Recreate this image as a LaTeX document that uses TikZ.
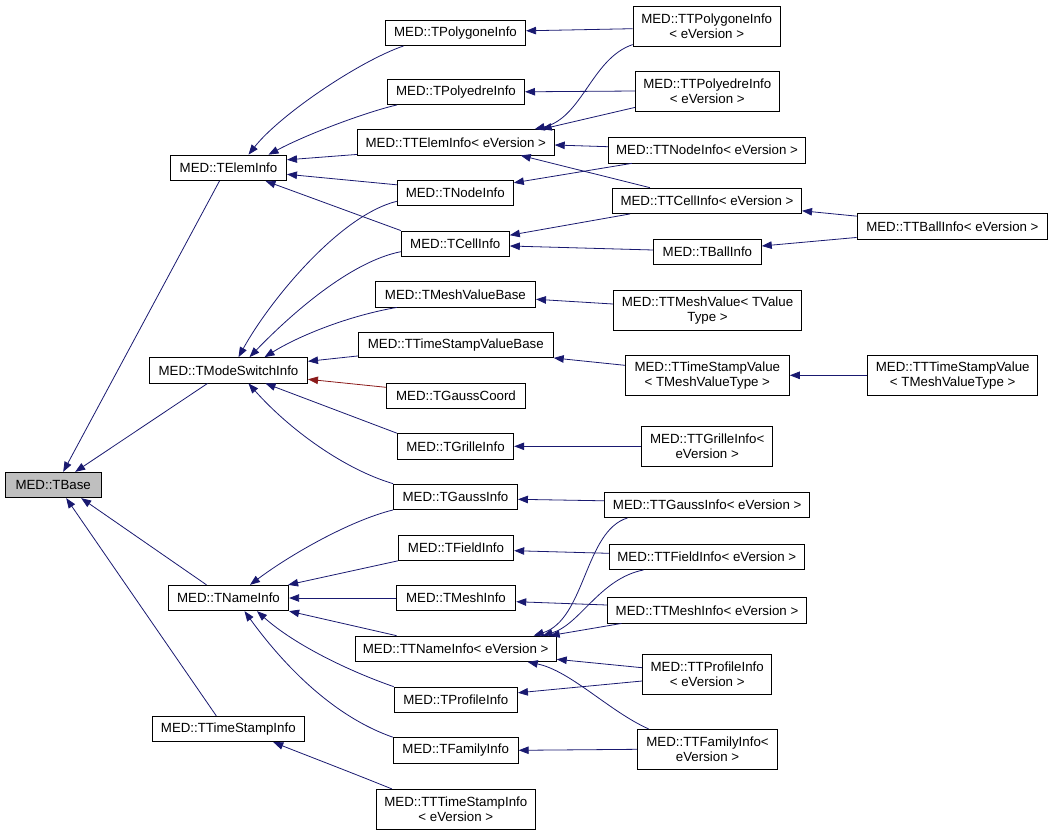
\documentclass[tikz,border=0pt]{standalone}
\usepackage{fontspec}
\setmainfont{Liberation Sans}
\usetikzlibrary{arrows.meta}
\definecolor{edgeblue}{HTML}{191970}
\definecolor{edgered}{HTML}{8B1A1A}
\begin{document}
\begin{tikzpicture}[x=1pt,y=-1pt,
    cls/.style={draw=black,line width=0.8pt,fill=white,inner sep=0pt,align=center,
      font=\fontsize{13.3}{15}\selectfont,minimum height=25.5pt},
    two/.style={minimum height=40pt},
    inh/.style={draw=edgeblue,line width=0.8pt,-{Triangle[length=10pt,width=7.5pt]}},
    tmpl/.style={draw=edgered,line width=0.8pt,-{Triangle[length=10pt,width=7.5pt]}}]
    \useasboundingbox (0,0) rectangle (1052,835);
    % first column
    \node[cls,fill=black!25,minimum width=96.3pt] (base) at (53.2,485) {MED::TBase};
    \node[cls,minimum width=116.2pt] (elem) at (228.5,167.8) {MED::TElemInfo};
    \node[cls,minimum width=158.2pt] (mode) at (228.5,370.3) {MED::TModeSwitchInfo};
    \node[cls,minimum width=120.4pt] (name) at (228.5,598) {MED::TNameInfo};
    \node[cls,minimum width=151.8pt] (tsinfo) at (228.3,729) {MED::TTimeStampInfo};
    % second column
    \node[cls,minimum width=140.3pt] (polygone) at (455.5,32.8) {MED::TPolygoneInfo};
    \node[cls,minimum width=137.2pt] (polyedre) at (456,91.8) {MED::TPolyedreInfo};
    \node[cls,minimum width=197pt] (ttelem) at (455.8,142.3) {MED::TTElemInfo< eVersion >};
    \node[cls,minimum width=116.2pt] (nodeinfo) at (455.3,192.8) {MED::TNodeInfo};
    \node[cls,minimum width=108.2pt] (cellinfo) at (455.3,243.7) {MED::TCellInfo};
    \node[cls,minimum width=160.4pt] (meshvb) at (455.4,294.3) {MED::TMeshValueBase};
    \node[cls,minimum width=195pt] (tsvb) at (455.8,344.8) {MED::TTimeStampValueBase};
    \node[cls,minimum width=139.3pt] (gcoord) at (456,395.8) {MED::TGaussCoord};
    \node[cls,minimum width=116.6pt] (grille) at (455.5,446.3) {MED::TGrilleInfo};
    \node[cls,minimum width=124.1pt] (gauss) at (455.5,496.8) {MED::TGaussInfo};
    \node[cls,minimum width=115.6pt] (field) at (456,547.7) {MED::TFieldInfo};
    \node[cls,minimum width=119.7pt] (mesh) at (456,598) {MED::TMeshInfo};
    \node[cls,minimum width=201.4pt] (ttname) at (455.6,648.8) {MED::TTNameInfo< eVersion >};
    \node[cls,minimum width=123.4pt] (profile) at (455.8,699.8) {MED::TProfileInfo};
    \node[cls,minimum width=125.1pt] (family) at (455.7,750.3) {MED::TFamilyInfo};
    \node[cls,two,minimum width=159.1pt] (tttsinfo) at (455.8,809.3) {MED::TTTimeStampInfo\\< eVersion >};
    % third column
    \node[cls,two,minimum width=147.3pt] (ttpolygone) at (706.7,26.2) {MED::TTPolygoneInfo\\< eVersion >};
    \node[cls,two,minimum width=143.8pt] (ttpolyedre) at (707.3,91) {MED::TTPolyedreInfo\\< eVersion >};
    \node[cls,minimum width=197.5pt] (ttnode) at (707,150.2) {MED::TTNodeInfo< eVersion >};
    \node[cls,minimum width=189.3pt] (ttcell) at (707,200.8) {MED::TTCellInfo< eVersion >};
    \node[cls,minimum width=107.9pt] (ballinfo) at (707.4,251.8) {MED::TBallInfo};
    \node[cls,two,minimum width=188.3pt] (ttmeshvalue) at (707.5,310.3) {MED::TTMeshValue< TValue\\Type >};
    \node[cls,two,minimum width=164.2pt] (tttsvalue) at (707.3,375.3) {MED::TTimeStampValue\\< TMeshValueType >};
    \node[cls,two,minimum width=131.3pt] (ttgrille) at (707.2,446.3) {MED::TTGrilleInfo<\\eVersion >};
    \node[cls,minimum width=205.3pt] (ttgauss) at (707.2,504.8) {MED::TTGaussInfo< eVersion >};
    \node[cls,minimum width=195.2pt] (ttfield) at (706.8,556.8) {MED::TTFieldInfo< eVersion >};
    \node[cls,minimum width=199.5pt] (ttmesh) at (707,610.3) {MED::TTMeshInfo< eVersion >};
    \node[cls,two,minimum width=129.3pt] (ttprofile) at (707.2,674.3) {MED::TTProfileInfo\\< eVersion >};
    \node[cls,two,minimum width=140.2pt] (ttfamily) at (707.5,749.3) {MED::TTFamilyInfo<\\eVersion >};
    % fourth column
    \node[cls,minimum width=190.7pt] (ttball) at (952.4,226.3) {MED::TTBallInfo< eVersion >};
    \node[cls,two,minimum width=170.3pt] (ttttsvalue) at (952.7,375.3) {MED::TTTimeStampValue\\< TMeshValueType >};
    % edges to MED::TBase
    \draw[inh] ([xshift=-9pt]elem.south) -- ([xshift=10pt]base.north);
    \draw[inh] ([xshift=-21pt]mode.south) -- ([xshift=22pt]base.north);
    \draw[inh] ([xshift=-22pt]name.north) -- ([xshift=28pt]base.south);
    \draw[inh] ([xshift=-12pt]tsinfo.north) -- ([xshift=13pt]base.south);
    % edges to MED::TElemInfo
    \draw[inh] ([xshift=18.6pt]polygone.south west) .. controls +(-44,15) and +(31.5,-40) .. ([xshift=20pt]elem.north);
    \draw[inh] ([xshift=10pt]polyedre.south west) .. controls +(-27,6) and +(41.5,-22) .. ([xshift=40pt]elem.north);
    \draw[inh] ([yshift=1pt]ttelem.south west) -- ([yshift=8pt]elem.east);
    \draw[inh] ([yshift=8pt]nodeinfo.west) -- ([yshift=-6.5pt]elem.east);
    \draw[inh] (cellinfo.north west) -- ([xshift=37pt]elem.south);
    % edges to MED::TModeSwitchInfo
    \draw[inh] ([yshift=-8.5pt]nodeinfo.west) .. controls +(-57,14) and +(31.5,-57) .. ([xshift=10pt]mode.north);
    \draw[inh] ([yshift=-8pt]cellinfo.west) .. controls +(-51,10) and +(40.5,-42) .. ([xshift=21pt]mode.north);
    \draw[inh] ([xshift=22pt]meshvb.south west) .. controls +(-47,8) and +(35.5,-22) .. ([xshift=36pt]mode.north);
    \draw[inh] ([yshift=2pt]tsvb.south west) -- ([yshift=9pt]mode.east);
    \draw[tmpl] ([yshift=8.5pt]gcoord.west) -- ([yshift=-9pt]mode.east);
    \draw[inh] (grille.north west) -- ([xshift=37pt]mode.south);
    \draw[inh] (gauss.north west) .. controls +(-48.4,-14.3) and +(41.5,46.7) .. ([xshift=20pt]mode.south);
    % edges to MED::TNameInfo
    \draw[inh] (gauss.south west) .. controls +(-43.4,10.7) and +(40,-30) .. ([xshift=21.5pt]name.north);
    \draw[inh] (field.south west) -- ([xshift=-1pt]name.north east);
    \draw[inh] (mesh.west) -- (name.east);
    \draw[inh] ([xshift=42pt]ttname.north west) -- (name.south east);
    \draw[inh] (profile.north west) .. controls +(-44,-15.3) and +(38,34) .. ([xshift=28.5pt]name.south);
    \draw[inh] (family.north west) .. controls +(-63,-22) and +(35.5,49) .. ([xshift=16pt]name.south);
    \draw[inh] ([xshift=16pt]tttsinfo.north west) .. controls +(-42,-17) and +(26.7,10.7) .. ([xshift=45pt]tsinfo.south);
    % edges from the third column
    \draw[inh] ([yshift=-2.5pt]ttpolygone.west) -- ([yshift=2pt]polygone.east);
    \draw[inh] ([yshift=2pt]ttpolygone.south west) .. controls +(-41,13.8) and +(47.7,-11.3) .. ([xshift=-20pt]ttelem.north east);
    \draw[inh] (ttpolyedre.west) -- (polyedre.east);
    \draw[inh] ([yshift=4pt]ttpolyedre.south west) -- ([xshift=-13pt]ttelem.north east);
    \draw[inh] ([yshift=3.5pt]ttnode.west) -- ([yshift=-2.7pt]ttelem.east);
    \draw[inh] ([xshift=24pt]ttnode.south west) -- ([yshift=10pt]nodeinfo.east);
    \draw[inh] ([xshift=38pt]ttcell.north west) -- ([xshift=-34pt]ttelem.south east);
    \draw[inh] ([xshift=18pt]ttcell.south west) -- ([yshift=8.5pt]cellinfo.east);
    \draw[inh] ([yshift=1.8pt]ballinfo.west) -- ([yshift=-2.3pt]cellinfo.east);
    \draw[inh] ([yshift=-3pt]ttball.north west) -- ([yshift=-10pt]ttcell.east);
    \draw[inh] ([yshift=2pt]ttball.south west) -- ([yshift=5.8pt]ballinfo.east);
    \draw[inh] ([yshift=6.3pt]ttmeshvalue.west) -- ([yshift=-5pt]meshvb.east);
    \draw[inh] ([yshift=10pt]tttsvalue.west) -- (tsvb.south east);
    \draw[inh] (ttttsvalue.west) -- (tttsvalue.east);
    \draw[inh] (ttgrille.west) -- (grille.east);
    \draw[inh] ([yshift=4pt]ttgauss.west) -- ([yshift=-2.5pt]gauss.east);
    \draw[inh] ([xshift=23.4pt]ttgauss.south west) .. controls +(-42.9,12.7) and +(51.7,-16.3) .. ([xshift=-23pt]ttname.north east);
    \draw[inh] ([yshift=3.5pt]ttfield.west) -- ([yshift=-3pt]field.east);
    \draw[inh] ([xshift=34.7pt]ttfield.south west) .. controls +(-43.9,8.7) and +(37.7,-11.3) .. ([xshift=-14pt]ttname.north east);
    \draw[inh] ([yshift=5.3pt]ttmesh.west) -- ([yshift=-3.7pt]mesh.east);
    \draw[inh] ([xshift=14.6pt]ttmesh.south west) -- ([xshift=-7pt]ttname.north east);
    \draw[inh] ([yshift=6.6pt]ttprofile.west) -- ([yshift=-10.5pt]ttname.east);
    \draw[inh] ([yshift=-6.7pt]ttprofile.west) -- ([yshift=7pt]profile.east);
    \draw[inh] ([xshift=11.6pt]ttfamily.north west) .. controls +(-39,-17.3) and +(42.7,8.7) .. ([xshift=-29pt]ttname.south east);
    \draw[inh] (ttfamily.west) -- (family.east);
\end{tikzpicture}
\end{document}
